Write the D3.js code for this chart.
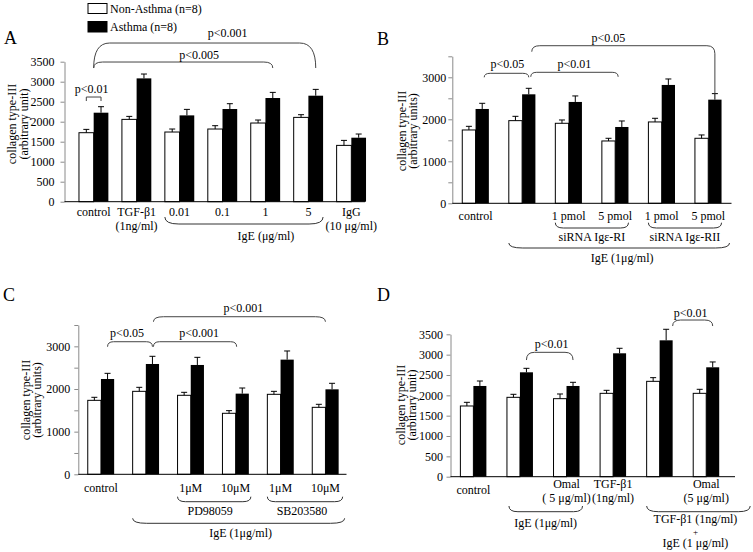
<!DOCTYPE html>
<html><head><meta charset="utf-8">
<script src="https://cdn.jsdelivr.net/npm/d3@7"></script>
<style>
body{margin:0;background:#fff}
svg{display:block}
</style>
</head><body>
<svg id="chart" width="753" height="552"></svg>
<script>
// ---------------- DATA ----------------
const seriesNames = ["Non-Asthma (n=8)", "Asthma (n=8)"];
const yTicks = [0, 500, 1000, 1500, 2000, 2500, 3000, 3500];

// Panel A
const catsA = ["control", "TGF-β1", "IgE 0.01", "IgE 0.1", "IgE 1", "IgE 5", "IgG"];
const xLabelsA = [["control"], ["TGF-β1", "(1ng/ml)"], ["0.01"], ["0.1"], ["1"], ["5"], ["IgG", "(10 μg/ml)"]];
const nonAsthmaA = [1725, 2058, 1742, 1817, 1967, 2108, 1408];
const nonAsthmaSeA = [83, 75, 75, 83, 75, 67, 125];
const asthmaA = [2225, 3083, 2158, 2317, 2592, 2650, 1600];
const asthmaSeA = [150, 109, 150, 133, 141, 158, 92];
const tickLabelsA = [0, 500, 1000, 1500, 2000, 2500, 3000, 3500];

// Panel B
const catsB = ["control", "IgE", "RI 1 pmol", "RI 5 pmol", "RII 1 pmol", "RII 5 pmol"];
const xLabelsB = [["control"], [""], ["1 pmol"], ["5 pmol"], ["1 pmol"], ["5 pmol"]];
const nonAsthmaB = [1746, 1968, 1905, 1484, 1937, 1548];
const nonAsthmaSeB = [87, 103, 79, 64, 87, 79];
const asthmaB = [2246, 2595, 2413, 1817, 2818, 2468];
const asthmaSeB = [135, 143, 143, 143, 142, 143];
const tickLabelsB = [0, 1000, 2000, 3000];

// Panel C
const catsC = ["control", "IgE", "PD 1μM", "PD 10μM", "SB 1μM", "SB 10μM"];
const xLabelsC = [["control"], [""], ["1μM"], ["10μM"], ["1μM"], ["10μM"]];
const nonAsthmaC = [1734, 1945, 1852, 1430, 1875, 1570];
const nonAsthmaSeC = [71, 94, 70, 62, 70, 71];
const asthmaC = [2234, 2586, 2563, 1891, 2688, 1992];
const asthmaSeC = [133, 180, 179, 132, 203, 141];
const tickLabelsC = [0, 1000, 2000, 3000];

// Panel D
const catsD = ["control", "IgE", "IgE+Omal", "TGF-β1", "TGF+IgE", "TGF+IgE+Omal"];
const xLabelsD = [["control"], [""], ["Omal", "( 5 μg/ml)"], ["TGF-β1", "(1ng/ml)"], [""], ["Omal", "(5 μg/ml)"]];
const nonAsthmaD = [1738, 1951, 1918, 2049, 2344, 2049];
const nonAsthmaSeD = [90, 74, 115, 74, 90, 99];
const asthmaD = [2230, 2566, 2230, 3033, 3352, 2689];
const asthmaSeD = [122, 98, 90, 123, 271, 131];
const tickLabelsD = [0, 500, 1000, 1500, 2000, 2500, 3000, 3500];

// ---------------- DRAWING ----------------
const FONT = "'Liberation Serif','Times New Roman',Times,serif";
const svg = d3.select("#chart");
svg.append("rect").attr("width", 753).attr("height", 552).attr("fill", "#fff");

function txt(g, x, y, s, size, anchor) {
  return g.append("text").attr("x", x).attr("y", y).attr("font-family", FONT)
    .attr("font-size", size || 12).attr("text-anchor", anchor || "middle").attr("fill", "#000").text(s);
}

function panel(p) {
  const g = svg.append("g");
  const n = p.cats.length;
  const x = d3.scaleBand().domain(d3.range(n)).range(p.xRange);
  const y = d3.scaleLinear().domain([0, 3500]).range(p.yRange);
  const w = p.barW;
  const cx = i => x(i) + x.bandwidth() / 2;
  const pos = (i, s) => ({ w: cx(i) - w / 2, b: cx(i) + w / 2, c: cx(i), wl: cx(i) - w, br: cx(i) + w })[s];

  // y axis
  const ax = d3.axisLeft(y).tickValues(yTicks).tickSize(4).tickSizeOuter(0)
    .tickPadding(p.tickPad).tickFormat(d => p.tickLabels.includes(d) ? d : "");
  const ga = g.append("g").attr("transform", `translate(${p.axisX},0)`).call(ax)
    .attr("font-family", FONT).attr("font-size", 12);
  ga.select(".domain").attr("stroke", "#8a8a8a");
  ga.selectAll(".tick line").attr("stroke", "#8a8a8a");
  ga.selectAll(".tick text").attr("fill", "#000");

  // bars
  const rows = d3.range(n).map(i => ({ i, a: p.non[i], ae: p.nonSe[i], b: p.asth[i], be: p.asthSe[i] }));
  g.selectAll("rect.non").data(rows).join("rect").attr("class", "non")
    .attr("x", d => pos(d.i, "wl")).attr("width", w)
    .attr("y", d => y(d.a)).attr("height", d => y(0) - y(d.a))
    .attr("fill", "#fff").attr("stroke", "#000").attr("stroke-width", 1);
  g.selectAll("rect.ast").data(rows).join("rect").attr("class", "ast")
    .attr("x", d => pos(d.i, "c")).attr("width", w)
    .attr("y", d => y(d.b)).attr("height", d => y(0) - y(d.b))
    .attr("fill", "#000");
  // error bars
  const errs = [];
  rows.forEach(d => {
    errs.push({ x: pos(d.i, "w"), v: d.a, e: d.ae });
    errs.push({ x: pos(d.i, "b"), v: d.b, e: d.be });
  });
  g.selectAll("path.err").data(errs).join("path").attr("class", "err")
    .attr("d", d => `M${d.x},${y(d.v)}V${y(d.v + d.e)}M${d.x - 3},${y(d.v + d.e)}H${d.x + 3}`)
    .attr("stroke", "#000").attr("stroke-width", 1).attr("fill", "none");

  // x axis line
  g.append("line").attr("x1", p.axisX).attr("x2", p.axisEnd)
    .attr("y1", y(0)).attr("y2", y(0)).attr("stroke", "#000").attr("stroke-width", 1);

  // x labels
  p.xLabels.forEach((lines, i) => {
    if (lines.length === 1) {
      if (lines[0]) txt(g, cx(i), p.singleY, lines[0]);
    } else {
      txt(g, cx(i), p.labelY1, lines[0]);
      txt(g, cx(i), p.labelY2, lines[1]);
    }
  });

  // group braces below
  (p.groups || []).forEach(b => {
    const x1 = pos(b.from[0], b.from[1]) + (b.dx1 || 0);
    const x2 = pos(b.to[0], b.to[1]) + (b.dx2 || 0);
    const r = b.r;
    g.append("path")
      .attr("d", `M${x1},${b.yT}Q${x1},${b.yB} ${x1 + r},${b.yB}H${x2 - r}Q${x2},${b.yB} ${x2},${b.yT}`)
      .attr("fill", "none").attr("stroke", "#333").attr("stroke-width", 1);
    b.lines.forEach((s, k) => txt(g, (x1 + x2) / 2 + (b.tdx || 0), b.ty[k], s, b.fs ? b.fs[k] : 12));
  });

  // significance annotations above
  (p.ann || []).forEach(a => {
    const x1 = pos(a.from[0], a.from[1]) + (a.dx1 || 0);
    const x2 = pos(a.to[0], a.to[1]) + (a.dx2 || 0);
    const yT = y(a.level);
    let d;
    if (a.square) {
      d = `M${x1},${yT + a.leg}V${yT}H${x2}V${yT + a.leg}`;
    } else {
      const r = a.r;
      const yL = yT + a.leg;
      let yR = yT + a.leg, yRend = yR;
      if (a.toBar) { yR = yT + r; yRend = y(p.asth[a.to[0]] + p.asthSe[a.to[0]]); }
      d = `M${x1},${yL}Q${x1},${yT} ${x1 + r},${yT}H${x2 - r}Q${x2},${yT} ${x2},${yR}V${yRend}`;
    }
    g.append("path").attr("d", d).attr("fill", "none").attr("stroke", "#444").attr("stroke-width", 1);
    txt(g, (x1 + x2) / 2 + (a.tdx || 0), yT - a.gap, a.text);
  });

  // y title
  g.append("text").attr("font-family", FONT).attr("font-size", 12).attr("text-anchor", "middle")
    .attr("fill", "#000").attr("transform", `translate(${p.yTitleX[0]},${p.yTitleCY}) rotate(-90)`)
    .text("collagen type-III");
  g.append("text").attr("font-family", FONT).attr("font-size", 12).attr("text-anchor", "middle")
    .attr("fill", "#000").attr("transform", `translate(${p.yTitleX[1]},${p.yTitleCY}) rotate(-90)`)
    .text(p.yTitle2);

  // panel letter
  txt(g, p.letterXY[0], p.letterXY[1], p.letter, 18, "start");
}

// Panel A
panel({
  letter: "A", letterXY: [4, 44],
  cats: catsA, xLabels: xLabelsA, non: nonAsthmaA, nonSe: nonAsthmaSeA, asth: asthmaA, asthSe: asthmaSeA,
  tickLabels: tickLabelsA, xRange: [72.2, 372.8], yRange: [201.7, 61.7], barW: 14.7,
  axisX: 64.5, axisEnd: 365, tickPad: 6,
  singleY: 216, labelY1: 216, labelY2: 230,
  yTitleX: [16, 28], yTitleCY: 124, yTitle2: "(arbitrary unit)",
  groups: [{ from: [2, "wl"], to: [5, "br"], yT: 217, yB: 224, r: 14, lines: ["IgE (μg/ml)"], ty: [240], tdx: 22 }],
  ann: [
    { square: true, from: [0, "w"], to: [0, "b"], level: 2617, leg: 4, text: "p<0.01", gap: 4, tdx: -2 },
    { from: [0, "c"], to: [4, "b"], level: 3492, leg: 6, r: 9, text: "p<0.005", gap: 3, tdx: 16 },
    { from: [0, "c"], to: [5, "b"], level: 3967, leg: 25, r: 16, text: "p<0.001", gap: 6, tdx: 23 }
  ]
});

// Panel B
panel({
  letter: "B", letterXY: [377, 45],
  cats: catsB, xLabels: xLabelsB, non: nonAsthmaB, nonSe: nonAsthmaSeB, asth: asthmaB, asthSe: asthmaSeB,
  tickLabels: tickLabelsB, xRange: [452.3, 731.5], yRange: [203.3, 56.3], barW: 13.3,
  axisX: 452.3, axisEnd: 731.5, tickPad: 2,
  singleY: 220, labelY1: 220, labelY2: 234,
  yTitleX: [406, 417], yTitleCY: 131, yTitle2: "(arbitrary units)",
  groups: [
    { from: [2, "wl"], to: [3, "br"], yT: 222.7, yB: 228, r: 8, lines: ["siRNA Igε-RI"], ty: [241] },
    { from: [4, "wl"], to: [5, "br"], yT: 222.7, yB: 228, r: 8, lines: ["siRNA Igε-RII"], ty: [241] },
    { from: [1, "wl"], to: [5, "br"], dx2: 8, yT: 243, yB: 248, r: 14, lines: ["IgE (1μg/ml)"], ty: [262], tdx: 3 }
  ],
  ann: [
    { from: [0, "b"], to: [1, "b"], dx1: 2, level: 3095, leg: 4, r: 6, text: "p<0.05", gap: 5.5, tdx: 1 },
    { from: [1, "b"], to: [3, "c"], dx1: 2, dx2: 3, level: 3119, leg: 4.5, r: 6, text: "p<0.01", gap: 4.5, tdx: 0 },
    { from: [1, "b"], to: [5, "b"], dx1: 3, level: 3752, leg: 6, r: 8, toBar: true, text: "p<0.05", gap: 4, tdx: -15 }
  ]
});

// Panel C
panel({
  letter: "C", letterXY: [3, 301],
  cats: catsC, xLabels: xLabelsC, non: nonAsthmaC, nonSe: nonAsthmaSeC, asth: asthmaC, asthSe: asthmaSeC,
  tickLabels: tickLabelsC, xRange: [78.5, 347.9], yRange: [474.3, 325], barW: 13.2,
  axisX: 78.3, axisEnd: 346.5, tickPad: 4,
  singleY: 492, labelY1: 492, labelY2: 506,
  yTitleX: [30, 41], yTitleCY: 400, yTitle2: "(arbitrary units)",
  groups: [
    { from: [2, "wl"], to: [3, "br"], dx2: 2, yT: 496.7, yB: 501.7, r: 8, lines: ["PD98059"], ty: [515], tdx: -4 },
    { from: [4, "wl"], to: [5, "br"], dx2: 4, yT: 496.7, yB: 501.7, r: 8, lines: ["SB203580"], ty: [515], tdx: -3 },
    { from: [1, "wl"], to: [5, "br"], dx2: 6, yT: 518.3, yB: 523.3, r: 14, lines: ["IgE (1μg/ml)"], ty: [536.7], tdx: 2 }
  ],
  ann: [
    { from: [0, "b"], to: [1, "b"], level: 3108, leg: 5, r: 6, text: "p<0.05", gap: 4.4, tdx: -3 },
    { from: [1, "b"], to: [3, "c"], dx1: 1, dx2: 1, level: 3108, leg: 5, r: 6, text: "p<0.001", gap: 4.4, tdx: 4 },
    { from: [1, "b"], dx1: 1, to: [5, "c"], level: 3694, leg: 5, r: 10, text: "p<0.001", gap: 5, tdx: 4 }
  ]
});

// Panel D
panel({
  letter: "D", letterXY: [377, 301],
  cats: catsD, xLabels: xLabelsD, non: nonAsthmaD, nonSe: nonAsthmaSeD, asth: asthmaD, asthSe: asthmaSeD,
  tickLabels: tickLabelsD, xRange: [450.1, 729.5], yRange: [476.7, 334.3], barW: 13,
  axisX: 450.5, axisEnd: 735, tickPad: 3.5,
  singleY: 494, labelY1: 488.3, labelY2: 501.7,
  yTitleX: [405, 416], yTitleCY: 405, yTitle2: "(arbitrary unit)",
  groups: [
    { from: [1, "wl"], to: [2, "br"], dx1: 2, dx2: 3, yT: 506, yB: 511.7, r: 9, lines: ["IgE (1μg/ml)"], ty: [526.7] },
    { from: [4, "wl"], to: [5, "br"], dx2: 31, yT: 506, yB: 511.7, r: 12,
      lines: ["TGF-β1 (1ng/ml)", "+", "IgE (1 μg/ml)"], ty: [522.8, 535, 547], fs: [12, 9, 12], tdx: -3 }
  ],
  ann: [
    { from: [1, "b"], to: [2, "b"], level: 3057, leg: 7.7, r: 8, text: "p<0.01", gap: 4, tdx: 2 },
    { from: [4, "br"], to: [5, "b"], level: 3851, leg: 6, r: 8, text: "p<0.01", gap: 3, tdx: -2 }
  ]
});

// Legend
const leg = svg.append("g");
const legendRows = seriesNames.map((s, k) => ({ s, k }));
leg.selectAll("rect").data(legendRows).join("rect")
  .attr("x", 88).attr("y", d => d.k === 0 ? 3.5 : 21.5).attr("width", 19).attr("height", d => d.k === 0 ? 10 : 10.5)
  .attr("fill", d => d.k === 0 ? "#fff" : "#000").attr("stroke", "#000").attr("stroke-width", 1);
leg.selectAll("text").data(legendRows).join("text")
  .attr("x", 110).attr("y", d => d.k === 0 ? 13 : 31).attr("font-family", FONT).attr("font-size", 12)
  .attr("fill", "#000").text(d => d.s);
</script>
</body></html>
